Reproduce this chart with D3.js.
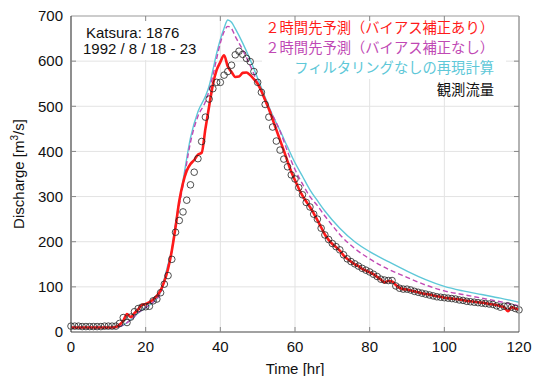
<!DOCTYPE html>
<html><head><meta charset="utf-8">
<script src="https://cdn.jsdelivr.net/npm/d3@7"></script>
<style>body{margin:0;background:#fff;} svg{display:block;}</style>
</head><body>
<svg id="c" width="533" height="376"></svg>
<script>
// ---- data ----
const xTicks = [0, 20, 40, 60, 80, 100, 120];
const yTicks = [0, 100, 200, 300, 400, 500, 600, 700];
const obsHours = d3.range(0, 121);
const observed = [13,13,13,12,12,12,12,12,12,13,13,13,13,19,32,21,33,45,52,55,
  56,57,69,73,87,106,125,161,221,247,266,292,326,354,384,422,476,516,539,553,
  553,569,577,591,614,622,615,606,599,577,553,531,504,476,454,423,403,383,366,348,
  339,320,304,287,277,261,250,230,215,205,196,189,182,171,162,156,151,146,141,137,
  133,128,123,117,115,114,114,102,97,95,95,93,90,88,86,84,82,80,78,77,
  76,75,74,73,71,70,68,67,66,65,64,63,62,61,58,55,57,58,55,52,49];
const redHours = d3.range(0, 121);
const redValues = [10,10,10,10,10,10,10,10,10,10,10,10,11,16,25,40,33,42,50,60,
  62,66,72,80,92,112,140,180,232,290,330,357,372,381,393,397,450,500,548,580,
  598,613,588,576,565,566,574,575,569,560,550,534,514,494,471,448,425,402,378,355,
  336,318,302,289,277,263,248,232,216,204,195,188,180,170,162,156,150,146,140,136,
  132,128,122,116,110,113,112,104,98,95,94,92,90,88,86,84,83,81,79,78,
  76,75,74,73,72,71,69,68,67,66,65,64,62,61,60,57,55,46,55,52,50];
const cyanHours = [0,12,14,16,18,20,22,24,25,26,27,28,30,32,34,36,37,38,39,40,41,42,43,44,46,48,50,52,54,56,58,60,62,64,66,68,72,76,80,85,90,95,100,105,110,115,120];
const cyanValues = [10,10,15,27,42,54,66,88,118,150,182,240,335,430,488,522,545,580,617,648,673,691,686,672,640,603,562,520,480,446,410,375,345,315,291,268,230,200,178,156,135,116,101,91,83,75,66];
const magHours = [0,12,14,16,18,20,22,24,25,26,27,28,30,32,34,36,37,38,39,40,41,42,43,44,46,48,50,52,54,56,58,60,62,64,66,68,70,72,76,80,85,90,95,100,105,110,115,120];
const magValues = [10,10,15,27,42,54,66,86,115,146,178,235,325,420,478,510,535,568,605,640,665,677,672,655,625,590,552,512,480,445,400,360,328,300,280,257,236,216,185,162,139,121,104,91,83,75,67,58];
const legendLabels = ["２時間先予測（バイアス補正あり）", "２時間先予測（バイアス補正なし）", "フィルタリングなしの再現計算", "観測流量"];
const legendColors = ["#ff1a1a", "#c049b4", "#5ec8d8", "#111111"];
const infoLines = ["Katsura: 1876", "1992 / 8 / 18 - 23"];

// ---- chart ----
const svg = d3.select("#c");
const L = 71, R = 519, T = 16, B = 332;
const x = d3.scaleLinear().domain([0, 120]).range([L, R]);
const y = d3.scaleLinear().domain([0, 700]).range([B, T]);
const font = "'Liberation Sans', Arial, sans-serif";

// grid
const g = svg.append("g");
g.selectAll(".vg").data(xTicks.slice(1, -1)).enter().append("line")
  .attr("x1", d => x(d)).attr("x2", d => x(d)).attr("y1", T).attr("y2", B)
  .attr("stroke", "#e3e3e3").attr("stroke-width", 1);
g.selectAll(".hg").data(yTicks.slice(1, -1)).enter().append("line")
  .attr("y1", d => y(d)).attr("y2", d => y(d)).attr("x1", L).attr("x2", R)
  .attr("stroke", "#e3e3e3").attr("stroke-width", 1);

// white boxes behind annotation text
svg.append("rect").attr("x", L + 1).attr("y", T + 1).attr("width", 122).attr("height", 43).attr("fill", "#fff");
svg.append("rect").attr("x", 262).attr("y", T + 1).attr("width", 244).attr("height", 62).attr("fill", "#fff");

// lines
const lineGen = (xs, ys, curve) => d3.line().x((d, i) => x(xs[i])).y(d => y(d)).curve(curve)(ys);
svg.append("path").attr("d", lineGen(cyanHours, cyanValues, d3.curveMonotoneX))
  .attr("fill", "none").attr("stroke", legendColors[2]).attr("stroke-width", 1.4);
svg.append("path").attr("d", lineGen(magHours, magValues, d3.curveMonotoneX))
  .attr("fill", "none").attr("stroke", legendColors[1]).attr("stroke-width", 1.4)
  .attr("stroke-dasharray", "5,3");
svg.append("path").attr("d", lineGen(redHours, redValues, d3.curveMonotoneX))
  .attr("fill", "none").attr("stroke", legendColors[0]).attr("stroke-width", 2.6)
  .attr("stroke-linejoin", "round");

// observed circles
svg.append("g").selectAll("circle").data(observed).enter().append("circle")
  .attr("cx", (d, i) => x(obsHours[i])).attr("cy", d => y(d)).attr("r", 3.3)
  .attr("fill", "none").attr("stroke", "#222").attr("stroke-width", 0.8);

// frame
svg.append("line").attr("x1", L).attr("x2", R).attr("y1", T).attr("y2", T).attr("stroke", "#9a9a9a").attr("stroke-width", 1.2);
svg.append("line").attr("x1", R).attr("x2", R).attr("y1", T).attr("y2", B).attr("stroke", "#9a9a9a").attr("stroke-width", 1.5);
svg.append("line").attr("x1", L).attr("x2", L).attr("y1", T).attr("y2", B).attr("stroke", "#444").attr("stroke-width", 1.2);
svg.append("line").attr("x1", L).attr("x2", R).attr("y1", B).attr("y2", B).attr("stroke", "#444").attr("stroke-width", 1.2);
// inward ticks
const tk = 5;
svg.append("g").selectAll("line").data(yTicks.slice(1, -1)).enter().append("line")
  .attr("x1", R).attr("x2", R - tk).attr("y1", d => y(d)).attr("y2", d => y(d)).attr("stroke", "#888");
svg.append("g").selectAll("line").data(yTicks.slice(1, -1)).enter().append("line")
  .attr("x1", L).attr("x2", L + tk).attr("y1", d => y(d)).attr("y2", d => y(d)).attr("stroke", "#888");
svg.append("g").selectAll("line").data(xTicks.slice(1, -1)).enter().append("line")
  .attr("x1", d => x(d)).attr("x2", d => x(d)).attr("y1", T).attr("y2", T + tk).attr("stroke", "#888");
svg.append("g").selectAll("line").data(xTicks.slice(1, -1)).enter().append("line")
  .attr("x1", d => x(d)).attr("x2", d => x(d)).attr("y1", B).attr("y2", B - tk).attr("stroke", "#888");

// tick labels
svg.append("g").selectAll("text").data(yTicks).enter().append("text")
  .attr("x", L - 8).attr("y", d => y(d)).attr("dy", "0.35em").attr("text-anchor", "end")
  .attr("font-family", font).attr("font-size", 15).attr("fill", "#111").text(d => d);
svg.append("g").selectAll("text").data(xTicks).enter().append("text")
  .attr("x", d => x(d)).attr("y", 352).attr("text-anchor", "middle")
  .attr("font-family", font).attr("font-size", 15).attr("fill", "#111").text(d => d);

// axis titles
svg.append("text").attr("x", (L + R) / 2).attr("y", 374).attr("text-anchor", "middle")
  .attr("font-family", font).attr("font-size", 15).attr("fill", "#111").text("Time [hr]");
const yt = svg.append("text").attr("transform", `translate(24,${(T + B) / 2}) rotate(-90)`)
  .attr("text-anchor", "middle").attr("font-family", font).attr("font-size", 15).attr("fill", "#111");
yt.append("tspan").text("Discharge [m");
yt.append("tspan").attr("font-size", 10).attr("dy", -6).text("3");
yt.append("tspan").attr("dy", 6).text("/s]");

// info text
svg.append("text").attr("x", 86).attr("y", 37.5).attr("font-family", font).attr("font-size", 15).attr("fill", "#111").text(infoLines[0]);
svg.append("text").attr("x", 83).attr("y", 53.5).attr("font-family", font).attr("font-size", 15).attr("fill", "#111").text(infoLines[1]);

// legend texts
const lgY = [33, 53, 73, 95];
svg.append("g").selectAll("text").data(legendLabels).enter().append("text")
  .attr("x", 494).attr("y", (d, i) => lgY[i]).attr("text-anchor", "end")
  .attr("font-family", "'Noto Sans CJK JP', sans-serif").attr("font-size", 14.3)
  .attr("fill", (d, i) => legendColors[i]).text(d => d);
</script>
</body></html>
